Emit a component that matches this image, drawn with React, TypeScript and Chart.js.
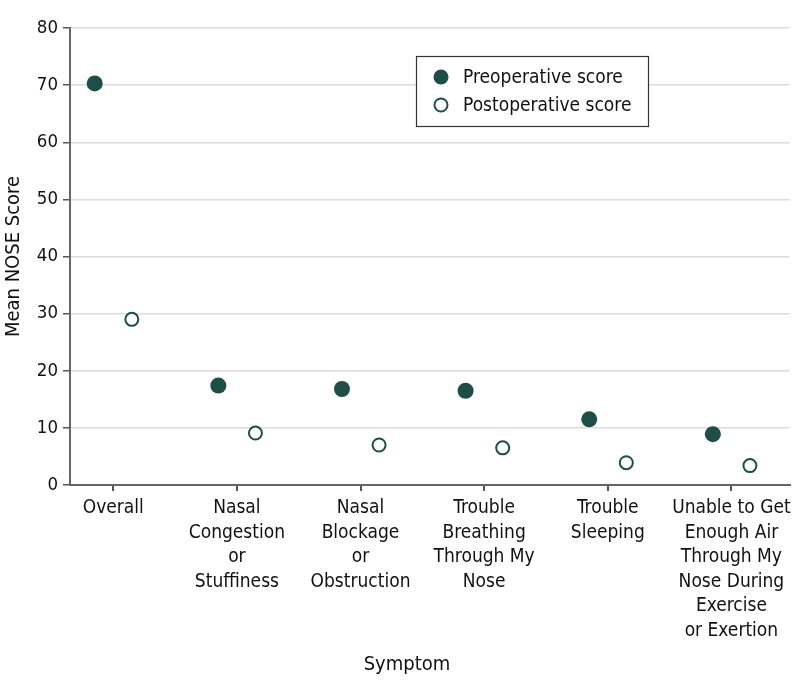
import React, { useEffect, useRef } from "react";
import { Chart, registerables } from "chart.js";

Chart.register(...registerables);

const categories: string[][] = [
  ["Overall"],
  ["Nasal", "Congestion", "or", "Stuffiness"],
  ["Nasal", "Blockage", "or", "Obstruction"],
  ["Trouble", "Breathing", "Through My", "Nose"],
  ["Trouble", "Sleeping"],
  ["Unable to Get", "Enough Air", "Through My", "Nose During", "Exercise", "or Exertion"],
];
const preoperative = [70.3, 17.4, 16.8, 16.5, 11.5, 8.9];
const postoperative = [29.0, 9.1, 7.0, 6.5, 3.9, 3.4];
const seriesNames = ["Preoperative score", "Postoperative score"];
const yTicks = [0, 10, 20, 30, 40, 50, 60, 70, 80];
const xTitle = "Symptom";
const yTitle = "Mean NOSE Score";

const DARK = "#1f4d49";
const TEXT = "#111";
const FONT = "'Liberation Sans Narrow', 'DejaVu Sans Condensed', 'DejaVu Sans', sans-serif";

const legendPlugin = {
  id: "boxLegend",
  afterDraw(chart: any) {
    const ctx = chart.ctx;
    ctx.save();
    ctx.strokeStyle = "#333";
    ctx.lineWidth = 1.2;
    ctx.fillStyle = "#fff";
    ctx.fillRect(416, 56, 232, 70);
    ctx.strokeRect(416.5, 56.5, 232, 70);
    const rows = [
      { y: 77, filled: true },
      { y: 105, filled: false },
    ];
    rows.forEach((r, i) => {
      ctx.beginPath();
      ctx.arc(441, r.y, r.filled ? 7.5 : 6.5, 0, Math.PI * 2);
      if (r.filled) {
        ctx.fillStyle = DARK;
        ctx.fill();
      } else {
        ctx.fillStyle = "#fff";
        ctx.fill();
        ctx.lineWidth = 2;
        ctx.strokeStyle = DARK;
        ctx.stroke();
      }
      ctx.fillStyle = TEXT;
      ctx.font = `19px ${FONT}`;
      ctx.textBaseline = "middle";
      ctx.textAlign = "left";
      ctx.fillText(seriesNames[i], 463, r.y + 1);
    });
    // x axis title, centred as in the reference
    ctx.font = `20px ${FONT}`;
    ctx.textAlign = "center";
    ctx.textBaseline = "middle";
    ctx.fillStyle = TEXT;
    ctx.fillText(xTitle, 407, 665);
    ctx.restore();
  },
};

export default function App() {
  const ref = useRef<HTMLCanvasElement>(null);
  useEffect(() => {
    document.body.style.margin = "0";
    const canvas = ref.current!;
    const chart = new Chart(canvas, {
      type: "scatter",
      data: {
        datasets: [
          {
            label: seriesNames[0],
            data: preoperative.map((v, i) => ({ x: i - 0.15, y: v })),
            backgroundColor: DARK,
            borderColor: DARK,
            pointRadius: 8,
            borderWidth: 0,
          },
          {
            label: seriesNames[1],
            data: postoperative.map((v, i) => ({ x: i + 0.15, y: v })),
            backgroundColor: "#fff",
            borderColor: DARK,
            pointRadius: 6.5,
            borderWidth: 2,
          },
        ],
      },
      options: {
        animation: false,
        responsive: false,
        layout: { padding: { top: 28, right: 6, left: 0, bottom: 0 } },
        plugins: { legend: { display: false }, tooltip: { enabled: false } },
        scales: {
          x: {
            type: "linear",
            min: -0.35,
            max: 5.47,
            afterBuildTicks: (scale: any) => {
              scale.ticks = categories.map((_, i) => ({ value: i }));
            },
            afterFit: (scale: any) => {
              scale.height = 208;
            },
            ticks: {
              autoSkip: false,
              maxRotation: 0,
              padding: 5,
              color: TEXT,
              font: { family: FONT, size: 19, lineHeight: 1.29 },
              callback: (v: any) => categories[Math.round(Number(v))] ?? "",
            },
            grid: {
              drawOnChartArea: false,
              drawTicks: true,
              tickLength: 6,
              tickColor: "#555",
              lineWidth: 2,
            },
            border: { color: "#666", width: 2 },
            title: { display: false },
          },
          y: {
            min: 0,
            max: 80,
            afterBuildTicks: (scale: any) => {
              scale.ticks = yTicks.map((v) => ({ value: v }));
            },
            afterFit: (scale: any) => {
              scale.width = 70;
            },
            ticks: {
              padding: 5,
              color: TEXT,
              font: { family: FONT, size: 18.5 },
            },
            grid: {
              color: "#dcdcdc",
              lineWidth: 1.5,
              drawTicks: true,
              tickLength: 7,
              tickColor: "#555",
            },
            border: { color: "#666", width: 2 },
            title: {
              display: true,
              text: yTitle,
              color: TEXT,
              font: { family: FONT, size: 20 },
              padding: { top: 2, bottom: 0 },
            },
          },
        },
      },
      plugins: [legendPlugin],
    } as any);
    return () => chart.destroy();
  }, []);
  return <canvas ref={ref} width={798} height={693} style={{ display: "block" }} />;
}
